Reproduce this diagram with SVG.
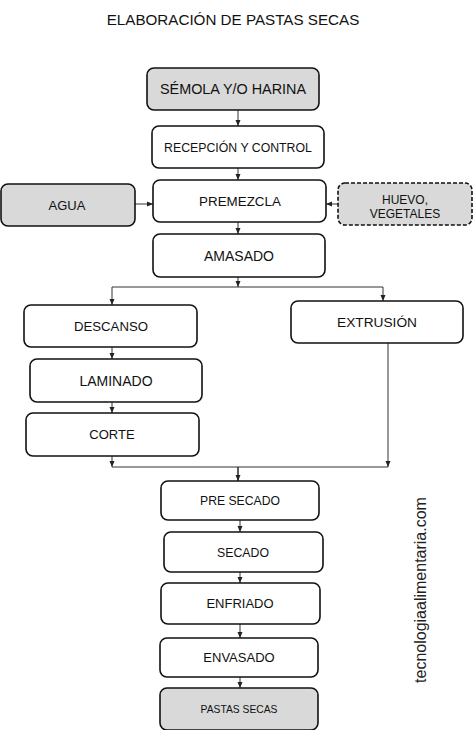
<svg xmlns="http://www.w3.org/2000/svg" width="474" height="730" viewBox="0 0 474 730">
<defs>
<marker id="ah" viewBox="0 0 6 6" refX="6" refY="3" markerWidth="6" markerHeight="6" markerUnits="userSpaceOnUse" orient="auto"><path d="M0,0.5 L6,3 L0,5.5 Z" fill="#222"/></marker>
</defs>
<style>
.box{fill:#fff;stroke:#111;stroke-width:1.6}
.gray{fill:#d9d9d9}
.dash{stroke-dasharray:4 2}
.t{font-family:"Liberation Sans",Arial,sans-serif;fill:#111;text-anchor:middle}
.c{fill:none;stroke:#333;stroke-width:1}
</style>
<rect width="474" height="730" fill="#fff"/>
<text class="t" x="233" y="25" font-size="15.2">ELABORACIÓN DE PASTAS SECAS</text>
<g id="connectors">
<path class="c" d="M238,110 V126" marker-end="url(#ah)"/>
<path class="c" d="M238,168 V180" marker-end="url(#ah)"/>
<path class="c" d="M135,204 H153" marker-end="url(#ah)"/>
<path class="c" d="M338,204 H326" marker-end="url(#ah)"/>
<path class="c" d="M238,222 V234" marker-end="url(#ah)"/>
<path class="c" d="M238,277 V287" marker-end="url(#ah)"/>
<path class="c" d="M112,287 H383"/>
<path class="c" d="M112,287 V305" marker-end="url(#ah)"/>
<path class="c" d="M383,287 V301" marker-end="url(#ah)"/>
<path class="c" d="M112,347 V359" marker-end="url(#ah)"/>
<path class="c" d="M112,402 V413" marker-end="url(#ah)"/>
<path class="c" d="M112,456 V467" marker-end="url(#ah)"/>
<path class="c" d="M388,343 V467" marker-end="url(#ah)"/>
<path class="c" d="M112,467 H388"/>
<path class="c" d="M238,467 V481" marker-end="url(#ah)" style="stroke-width:1.6"/>
<path class="c" d="M240,520 V532" marker-end="url(#ah)"/>
<path class="c" d="M240,572 V583" marker-end="url(#ah)"/>
<path class="c" d="M240,624 V638" marker-end="url(#ah)"/>
<path class="c" d="M240,677 V688" marker-end="url(#ah)"/>
</g>
<g id="semola"><rect class="box gray" x="147" y="68" width="172" height="42" rx="7"/><text class="t" x="233" y="94" font-size="14.4">SÉMOLA Y/O HARINA</text></g>
<g id="recepcion"><rect class="box" x="152" y="126" width="172" height="42" rx="7"/><text class="t" x="238" y="151.5" font-size="12.3">RECEPCIÓN Y CONTROL</text></g>
<g id="agua"><rect class="box gray" x="1" y="184" width="134" height="42" rx="7"/><text class="t" x="67" y="210" font-size="13">AGUA</text></g>
<g id="premezcla"><rect class="box" x="153" y="180" width="173" height="42" rx="7"/><text class="t" x="240" y="206" font-size="13.4">PREMEZCLA</text></g>
<g id="huevo"><rect class="box gray dash" x="338" y="183" width="134" height="42" rx="7"/><text class="t" x="405" y="204" font-size="12">HUEVO,</text><text class="t" x="405" y="218" font-size="12">VEGETALES</text></g>
<g id="amasado"><rect class="box" x="153" y="234" width="172" height="43" rx="7"/><text class="t" x="239" y="260.5" font-size="14">AMASADO</text></g>
<g id="descanso"><rect class="box" x="24" y="305" width="173" height="42" rx="7"/><text class="t" x="111" y="331" font-size="13.2">DESCANSO</text></g>
<g id="extrusion"><rect class="box" x="291" y="301" width="172" height="42" rx="7"/><text class="t" x="377" y="327" font-size="13.7">EXTRUSIÓN</text></g>
<g id="laminado"><rect class="box" x="30" y="359" width="172" height="43" rx="7"/><text class="t" x="116" y="385.5" font-size="14">LAMINADO</text></g>
<g id="corte"><rect class="box" x="26" y="413" width="173" height="43" rx="7"/><text class="t" x="112" y="439" font-size="13">CORTE</text></g>
<g id="presecado"><rect class="box" x="161" y="481" width="158" height="39" rx="7"/><text class="t" x="240" y="505" font-size="12.2">PRE SECADO</text></g>
<g id="secado"><rect class="box" x="164" y="532" width="159" height="40" rx="7"/><text class="t" x="243" y="556.5" font-size="12.3">SECADO</text></g>
<g id="enfriado"><rect class="box" x="161" y="583" width="159" height="41" rx="7"/><text class="t" x="240" y="608" font-size="13">ENFRIADO</text></g>
<g id="envasado"><rect class="box" x="160" y="638" width="158" height="39" rx="7"/><text class="t" x="239" y="662" font-size="13">ENVASADO</text></g>
<g id="pastas"><rect class="box gray" x="160" y="688" width="158" height="42" rx="7"/><text class="t" x="239" y="713" font-size="10.3">PASTAS SECAS</text></g>
<text class="t" transform="translate(426,590) rotate(-90)" x="0" y="0" font-size="16" style="fill:#222">tecnologiaalimentaria.com</text>
</svg>
